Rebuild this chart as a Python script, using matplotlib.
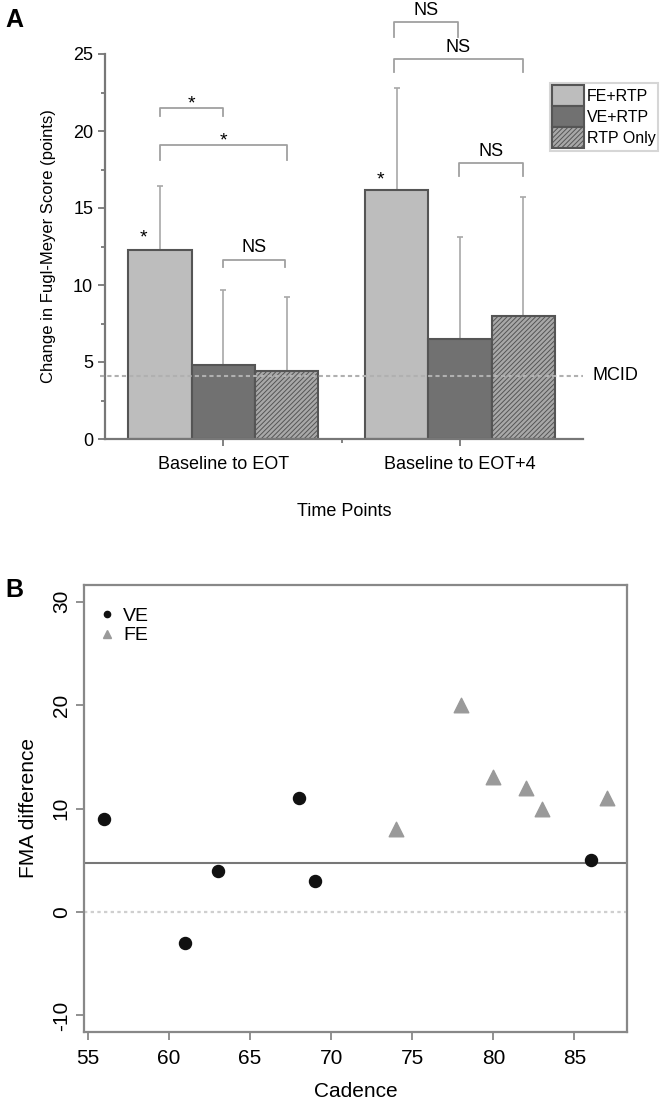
import numpy as np
import matplotlib
matplotlib.use("Agg")
import matplotlib.pyplot as plt
from matplotlib.lines import Line2D

plt.rcParams['font.family'] = ['Liberation Sans', 'DejaVu Sans']
plt.rcParams['axes.unicode_minus'] = False
plt.rcParams['hatch.color'] = '#7a7a7a'
plt.rcParams['hatch.linewidth'] = 0.7

# Panel A data
groups = ['Baseline to EOT', 'Baseline to EOT+4']
series = ['FE+RTP', 'VE+RTP', 'RTP Only']
fe_mean = [12.3, 16.2]
ve_mean = [4.8, 6.5]
rtp_mean = [4.4, 8.0]
fe_sd = [4.1, 6.6]
ve_sd = [4.9, 6.6]
rtp_sd = [4.8, 7.7]
mcid = 4.1

# Panel B data
ve_cadence = [56, 61, 63, 68, 69, 86]
ve_fma = [9, -3, 4, 11, 3, 5]
fe_cadence = [74, 78, 80, 82, 83, 87]
fe_fma = [8, 20, 13, 12, 10, 11]
ref_line = 4.75

W, H = 671, 1099
fig = plt.figure(figsize=(W / 100, H / 100), dpi=100)

# ---------------- Panel A ----------------
axA = fig.add_axes([105 / W, 1 - 439 / H, 478 / W, 385 / H])
x = np.arange(len(groups))
bw = 0.268
edge = '#555555'
colors = ['#bdbdbd', '#717171', '#a8a8a8']
hatches = [None, None, '///////']
means = [fe_mean, ve_mean, rtp_mean]
sds = [fe_sd, ve_sd, rtp_sd]
for i in range(3):
    pos = x + (i - 1) * bw
    axA.bar(pos, means[i], bw, color=colors[i], edgecolor=edge, linewidth=1.5,
            hatch=hatches[i], label=series[i], zorder=2)
    axA.errorbar(pos, means[i], yerr=[np.zeros(2), sds[i]], fmt='none',
                 ecolor='#a8a8a8', elinewidth=1.2, capsize=2.5, capthick=1.2, zorder=1)

axA.plot([-0.52, 1.52], [mcid, mcid], ls=(0, (2, 1.5)), color='#b0b0b0', lw=1.5,
         zorder=3, clip_on=False)
axA.text(1.56, mcid, 'MCID', va='center', ha='left', fontsize=13)

# significance brackets: x1, x2, top, leg bottom, label, label y
brackets = [
    (-0.268, 0.0, 21.5, 21.0, '*', 21.2),
    (-0.268, 0.27, 19.1, 18.1, '*', 18.8),
    (0.0, 0.26, 11.65, 11.2, 'NS', 11.9),
    (0.72, 0.99, 27.05, 26.1, 'NS', 27.3),
    (0.72, 1.267, 24.7, 23.8, 'NS', 24.9),
    (0.996, 1.267, 17.9, 17.05, 'NS', 18.1),
]
for x1, x2, top, bot, lab, ly in brackets:
    axA.plot([x1, x1, x2, x2], [bot, top, top, bot], color='#a0a0a0', lw=1.3,
             clip_on=False)
    axA.text((x1 + x2) / 2, ly, lab, ha='center', va='bottom',
             fontsize=13 if lab == 'NS' else 14)
axA.text(-0.337, 12.5, '*', ha='center', va='bottom', fontsize=14)
axA.text(0.663, 16.3, '*', ha='center', va='bottom', fontsize=14)

axA.set_xlim(-0.5, 1.52)
axA.set_ylim(0, 25)
axA.set_yticks(np.arange(0, 26, 5))
axA.set_yticks(np.arange(0, 26, 2.5), minor=True)
axA.set_xticks(x)
axA.set_xticklabels(groups, fontsize=13)
axA.set_xticks([0.5], minor=True)
for s in ['top', 'right']:
    axA.spines[s].set_visible(False)
for s in ['left', 'bottom']:
    axA.spines[s].set_color('#777777')
    axA.spines[s].set_linewidth(1.6)
axA.tick_params(axis='both', which='both', color='#777777', width=1.3)
axA.tick_params(axis='y', which='major', length=5, labelsize=13)
axA.tick_params(axis='y', which='minor', length=3)
axA.tick_params(axis='x', which='major', length=5, pad=7)
axA.tick_params(axis='x', which='minor', length=3)
axA.set_ylabel('Change in Fugl-Meyer Score (points)', fontsize=12, labelpad=12)
axA.set_xlabel('Time Points', fontsize=13, labelpad=22)

leg = axA.legend(loc='upper left', bbox_to_anchor=(0.93, 0.925), fontsize=11.5,
                 handlelength=2.0, handleheight=1.65, labelspacing=0.0,
                 handletextpad=0.2, borderpad=0.15, borderaxespad=0,
                 frameon=True, fancybox=False, edgecolor='#cccccc')
leg.get_frame().set_linewidth(1.5)

fig.text(5 / W, 1 - 20 / H, 'A', fontsize=18, fontweight='bold', va='center')

# ---------------- Panel B ----------------
axB = fig.add_axes([84 / W, 1 - 1032 / H, 543 / W, 447 / H])
axB.axhline(0, color='#cfcfcf', lw=1.6, ls=(0, (1.5, 1.5)), zorder=1)
axB.axhline(ref_line, color='#777777', lw=1.5, zorder=1)
axB.scatter(ve_cadence, ve_fma, s=75, marker='o', color='#111111', zorder=3)
axB.scatter(fe_cadence, fe_fma, s=110, marker='^', color='#9a9a9a', zorder=3)

axB.set_xlim(54.76, 88.24)
axB.set_ylim(-11.6, 31.6)
axB.set_xticks(np.arange(55, 86, 5))
axB.set_yticks(np.arange(-10, 31, 10))
for lab in axB.get_yticklabels():
    lab.set_rotation(90)
    lab.set_va('center')
for s in axB.spines.values():
    s.set_color('#888888')
    s.set_linewidth(1.6)
axB.tick_params(axis='both', color='#888888', width=1.3, length=6, labelsize=15)
axB.tick_params(axis='x', pad=6)
axB.set_xlabel('Cadence', fontsize=15, labelpad=10)
axB.set_ylabel('FMA difference', fontsize=15, labelpad=10)

handles = [Line2D([], [], ls='none', marker='o', color='#111111', markersize=4.5),
           Line2D([], [], ls='none', marker='^', color='#9a9a9a', markersize=6)]
axB.legend(handles, ['VE', 'FE'], loc='upper left', bbox_to_anchor=(0.0, 0.985),
           frameon=False, fontsize=14, handlelength=0.8, handletextpad=0.4,
           labelspacing=0.1, borderpad=0.3)

fig.text(5 / W, 1 - 590 / H, 'B', fontsize=18, fontweight='bold', va='center')

fig.savefig('out.png', dpi=100)
